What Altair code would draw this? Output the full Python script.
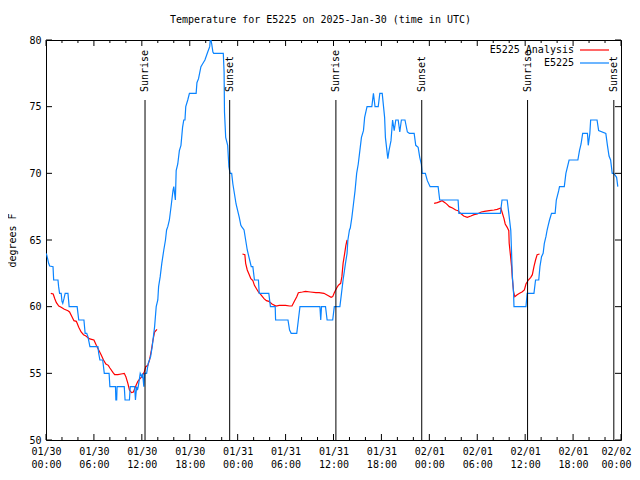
import json
import altair as alt
import pandas as pd

# ---------------- data (hours since 2025-01-30 00:00 UTC) ----------------
blue_h = [0.04, 0.2, 0.33, 0.46, 0.88, 0.96, 1.5, 1.58, 1.7, 1.9, 2.0, 2.1, 2.25, 2.4, 2.75, 2.9,
          3.9, 4.0, 4.1, 4.75, 4.9, 5.1, 5.25, 5.5, 6.5, 6.6, 6.75, 7.1, 7.3, 7.9, 8.0, 8.7, 8.75,
          8.85, 8.9, 9.8, 9.9, 10.45, 10.55, 11.1, 11.2, 11.35, 11.45, 11.55, 11.8, 12.0, 12.1,
          12.25, 12.35, 12.6, 12.8, 13.1, 13.3, 13.6, 13.8, 14.0, 14.1, 14.3, 14.5, 14.75, 14.96,
          15.1, 15.25, 15.45, 15.7, 15.9, 16.0, 16.1, 16.2, 16.3, 16.5, 16.7, 16.9, 17.1, 17.25,
          17.4, 17.5, 17.75, 17.96, 18.8, 18.9, 19.1, 19.4, 19.6, 19.9, 20.25, 20.5, 20.6, 20.75,
          20.9, 21.0, 22.2, 22.3, 22.35, 22.5, 22.75, 22.9, 23.05, 23.25, 23.4, 23.6, 23.8, 24.0,
          24.2, 24.4, 24.5, 24.8, 25.0, 25.2, 25.5, 25.7, 25.9, 26.1, 26.6, 26.7, 27.9, 28.1,
          28.7, 28.75, 30.3, 30.5, 30.7, 31.4, 31.6, 31.8, 34.3, 34.4, 34.5, 35.0, 35.2, 35.9,
          36.1, 36.8, 37.0, 37.2, 37.5, 37.7, 37.8, 38.0, 38.1, 38.3, 38.5, 38.7, 38.9, 39.1,
          39.3, 39.5, 39.75, 39.9, 40.2, 40.8, 41.0, 41.2, 41.6, 41.8, 42.1, 42.4, 42.5, 42.8,
          42.95, 43.2, 43.4, 43.6, 43.8, 44.1, 44.3, 44.5, 44.95, 45.25, 45.5, 46.1, 46.3, 46.6,
          46.8, 47.0, 47.1, 47.5, 47.75, 48.1, 49.1, 49.3, 51.6, 51.7, 56.9, 57.1, 57.75, 57.95,
          58.2, 58.3, 58.4, 58.55, 58.6, 60.1, 60.25, 61.1, 61.3, 61.7, 61.85, 62.05, 62.25,
          62.4, 62.6, 62.75, 62.85, 63.05, 63.3, 63.75, 63.9, 64.2, 64.3, 64.9, 65.1, 65.5, 66.6,
          66.8, 67.0, 67.2, 67.8, 67.9, 68.1, 68.2, 69.0, 69.2, 70.1, 70.3, 70.5, 70.7, 70.9,
          71.1, 71.45, 71.6]
blue_t = [64, 63.6, 63.25, 63.05, 63, 62, 62, 61.5, 61, 61, 60.4, 60.25, 60.6, 61, 61, 60,
          60, 59.5, 59, 59, 58, 58, 57.75, 57, 57, 56.5, 56, 56, 55, 55, 54, 54, 53,
          53, 54, 54, 53, 53, 54, 54, 53, 54, 53.75, 54, 55, 54.75, 55,
          54, 55, 55, 55.75, 56.25, 57, 58.5, 60, 60.5, 61.5, 62.25, 63.25, 64.25, 65,
          65.75, 66, 66.5, 67.7, 68.7, 69, 68.5, 68, 70.2, 70.7, 71.7, 72.1, 73.45, 74,
          74, 75, 75.5, 76, 76, 76.8, 77.1, 78, 78.2, 78.5, 79.1, 79.5, 80.2, 79.7,
          79.1, 79, 79, 77.6, 74.6, 72.7, 72.1, 70.5, 70, 70, 69.2, 68.45, 67.7, 67.2,
          66.7, 66.1, 66, 65.75, 65, 64.25, 63.5, 63, 63, 62, 62, 61, 61, 60,
          60, 59, 59, 58.25, 58, 58, 59, 60, 60, 59, 60, 60, 59, 59,
          60, 60, 61, 62, 63.25, 64, 65, 65.75, 65.9, 66.7, 67.7, 68.7, 70, 70.7,
          71.7, 72.7, 73.2, 74.2, 75, 75, 76, 75, 75, 76, 76, 74.2, 72.7, 71.1,
          71.7, 72.45, 74, 73.2, 74, 74, 73.1, 74, 74, 73.1, 73, 73, 72.1, 71.95,
          71.2, 70.7, 70, 70, 69.45, 69, 69, 68, 68, 67, 67, 68, 68, 67,
          65.7, 64, 62.25, 61, 60, 60, 61, 61, 62, 62, 63, 63.75, 64,
          64.75, 65.25, 65.75, 66, 66.5, 67, 67, 68, 68.7, 69, 69, 70, 71, 71,
          71.7, 72.2, 73, 73, 72.1, 73, 74, 74, 73.2, 73, 72.1, 71.3, 71, 70,
          70, 69.7, 69]

red1_h = [0.6, 0.9, 1.1, 1.3, 1.6, 1.9, 2.3, 2.75, 2.95, 3.25, 3.5, 3.8, 4.1, 4.4, 4.7, 5.0,
          5.4, 5.7, 6.0, 6.3, 6.6, 6.9, 7.2, 7.5, 7.8, 8.0, 8.4, 8.6, 9.0, 9.4, 9.8, 10.0,
          10.25, 10.45, 10.7, 10.95, 11.2, 11.5, 11.7, 12.0, 12.3, 12.5, 12.75, 12.96, 13.2,
          13.4, 13.6, 13.9]
red1_t = [61, 60.95, 60.6, 60.3, 60.05, 59.95, 59.8, 59.7, 59.6, 59.25, 58.95, 58.9, 58.45,
          58.1, 57.9, 57.8, 57.6, 57.55, 57.5, 57.1, 56.75, 56.4, 56, 55.7, 55.6, 55.4, 55.05,
          54.9, 54.9, 54.95, 55, 54.75, 54.25, 53.75, 53.55, 53.6, 54, 54.4, 54.55, 54.75,
          55.1, 55.5, 55.6, 56, 56.75, 57.5, 58.1, 58.3]

red2_h = [24.6, 24.9, 25.0, 25.2, 25.45, 25.65, 25.9, 26.1, 26.3, 26.6, 26.9, 27.3, 27.6,
          27.9, 28.3, 28.8, 29.2, 29.6, 30.0, 30.5, 30.8, 31.1, 31.4, 31.6, 32.1, 32.5, 33.1,
          33.8, 34.2, 34.8, 35.25, 35.7, 35.9, 36.1, 36.4, 36.6, 36.9, 37.05, 37.2, 37.4,
          37.55, 37.7]
red2_t = [63.95, 63.9, 63.25, 62.75, 62.4, 62.1, 61.95, 61.6, 61.4, 61.1, 60.9, 60.6, 60.45,
          60.4, 60.2, 60.05, 60.1, 60.1, 60.1, 60.05, 60.05, 60.4, 60.75, 61.05, 61.1, 61.15,
          61.1, 61.05, 61.05, 61, 60.85, 60.7, 60.75, 61.05, 61.4, 61.6, 61.75, 62.25, 63.25,
          64, 64.6, 65]

red3_h = [48.6, 49.0, 49.4, 49.6, 49.96, 50.25, 50.5, 50.9, 51.3, 51.6, 51.9, 52.3, 52.75,
          53.2, 53.6, 54.0, 54.5, 54.9, 55.5, 56.1, 56.5, 56.95, 57.1, 57.35, 57.5, 57.75,
          57.95, 58.0, 58.15, 58.3, 58.4, 58.55, 58.7, 59.0, 59.3, 59.6, 59.9, 60.1, 60.4,
          60.7, 60.9, 61.1, 61.3, 61.5, 61.8]
red3_t = [67.75, 67.8, 67.9, 67.95, 67.8, 67.65, 67.5, 67.4, 67.25, 67.2, 67, 66.8, 66.7,
          66.8, 66.9, 66.95, 67.1, 67.15, 67.2, 67.25, 67.3, 67.4, 67.1, 66.6, 66.2, 65.95,
          65.7, 64.75, 63.9, 63, 62.1, 61.1, 60.75, 60.9, 61, 61.1, 61.25, 61.7, 62, 62.2,
          62.4, 63, 63.5, 63.9, 63.95]

event_h = [12.4, 23.0, 36.3, 47.05, 60.3, 71.1]
event_label = ["Sunrise", "Sunset", "Sunrise", "Sunset", "Sunrise", "Sunset"]

tick_hours = list(range(0, 73, 6))
tick_dates = ["01/30", "01/30", "01/30", "01/30", "01/31", "01/31", "01/31", "01/31",
              "02/01", "02/01", "02/01", "02/01", "02/02"]
tick_times = ["00:00", "06:00", "12:00", "18:00"] * 3 + ["00:00"]
minor_hours = [h for h in range(0, 73, 2) if h % 6]
y_ticks = [50, 55, 60, 65, 70, 75, 80]

series_names = ["E5225 Analysis", "E5225"]
series_colors = ["#ff0000", "#0a84ff"]

FONT = "DejaVu Sans Mono"
W, H = 575, 400
XMIN, XMAX, YMIN, YMAX = 0, 72, 50, 80

# ---------------- frames ----------------
red_df = pd.concat([
    pd.DataFrame({"hour": red1_h, "temp": red1_t, "seg": 1}),
    pd.DataFrame({"hour": red2_h, "temp": red2_t, "seg": 2}),
    pd.DataFrame({"hour": red3_h, "temp": red3_t, "seg": 3}),
])
red_df["series"] = series_names[0]
blue_df = pd.DataFrame({"hour": blue_h, "temp": blue_t, "seg": 0, "series": series_names[1]})
ev_df = pd.DataFrame({"hour": event_h, "label": event_label})
ev_df["temp"] = YMIN
ev_df["top"] = 75.5
ev_df["ltemp"] = 76.1

xs = alt.Scale(domain=[XMIN, XMAX], nice=False, zero=False)
ys = alt.Scale(domain=[YMIN, YMAX], nice=False, zero=False)
cs = alt.Scale(domain=series_names, range=series_colors)

# tick lengths in data units
maj_x = 6 * (YMAX - YMIN) / H
min_x = 3 * (YMAX - YMIN) / H
maj_y = 6 * (XMAX - XMIN) / W

xt_df = pd.concat([
    pd.DataFrame({"hour": tick_hours, "len": maj_x}),
    pd.DataFrame({"hour": minor_hours, "len": min_x}),
])
xt_df["temp"] = YMIN
xt_df["b2"] = YMIN + xt_df["len"]
xt_df["t1"] = YMAX
xt_df["t2"] = YMAX - xt_df["len"]
yt_df = pd.DataFrame({"temp": y_ticks})
yt_df["hour"] = XMIN
yt_df["l2"] = XMIN + maj_y
yt_df["r1"] = XMAX
yt_df["r2"] = XMAX - maj_y

idx = "round(datum.value/6)"
label_expr = "[" + json.dumps(tick_dates) + "[" + idx + "], " + json.dumps(tick_times) + "[" + idx + "]]"

x_axis = alt.Axis(values=tick_hours, labelExpr=label_expr, ticks=False, domain=False, grid=False,
                  labelFont=FONT, labelFontSize=10, labelColor="black", labelPadding=6,
                  labelLineHeight=13, labelBaseline="top", title=None, labelFlush=False,
                  labelOffset={"condition": {"test": f"datum.value >= {XMAX}", "value": -5},
                               "value": 0})
y_axis = alt.Axis(values=y_ticks, ticks=False, domain=False, grid=False, labelFont=FONT,
                  labelFontSize=10, labelColor="black", labelPadding=5, title="degrees F",
                  titleFont=FONT, titleFontSize=10, titleFontWeight="normal", titleColor="black",
                  titleX=-34, titleY=H / 2, titleAngle=270, titleBaseline="middle", titleAlign="center")


def X(field):
    return alt.X(field, type="quantitative", scale=xs, axis=x_axis)


def Y(field):
    return alt.Y(field, type="quantitative", scale=ys, axis=y_axis)


red = alt.Chart(red_df).mark_line(strokeWidth=1.2, clip=True).encode(
    x=X("hour"), y=Y("temp"),
    color=alt.Color("series:N", scale=cs, legend=None),
    detail="seg:N",
)
blue = alt.Chart(blue_df).mark_line(strokeWidth=1.2, clip=True).encode(
    x=X("hour"), y=Y("temp"),
    color=alt.Color("series:N", scale=cs, legend=None),
)

ev_rule = alt.Chart(ev_df).mark_rule(color="black", strokeWidth=1).encode(
    x=X("hour"), y=Y("temp"), y2="top:Q",
)
ev_text = alt.Chart(ev_df).mark_text(angle=270, align="left", baseline="middle", font=FONT,
                                     fontSize=10, color="black").encode(
    x=X("hour"), y=Y("ltemp"), text="label:N",
)

xt_bottom = alt.Chart(xt_df).mark_rule(color="black").encode(
    x=X("hour"), y=Y("temp"), y2="b2:Q")
xt_top = alt.Chart(xt_df).mark_rule(color="black").encode(
    x=X("hour"), y=Y("t1"), y2="t2:Q")
yt_left = alt.Chart(yt_df).mark_rule(color="black").encode(
    y=Y("temp"), x=X("hour"), x2="l2:Q")
yt_right = alt.Chart(yt_df).mark_rule(color="black").encode(
    y=Y("temp"), x=X("r1"), x2="r2:Q")

# key (top right, gnuplot style: label then line sample)
key_layers = []
for i, (name, col) in enumerate(zip(series_names, series_colors)):
    yy = 10 + 13 * i
    key_layers.append(alt.Chart(pd.DataFrame({"label": [name]})).mark_text(
        align="right", baseline="middle", font=FONT, fontSize=10, color="black").encode(
        x=alt.value(528), y=alt.value(yy), text="label:N"))
    key_layers.append(alt.Chart(pd.DataFrame({"label": [name]})).mark_rule(
        color=col, strokeWidth=1.2).encode(
        x=alt.value(534), x2=alt.value(563), y=alt.value(yy)))

chart = alt.layer(red, blue, ev_rule, ev_text, xt_bottom, xt_top, yt_left, yt_right,
                  *key_layers).properties(
    width=W, height=H,
    title=alt.TitleParams("Temperature for E5225 on 2025-Jan-30 (time in UTC)", font=FONT,
                          fontSize=10, fontWeight="normal", color="black", offset=10,
                          anchor="middle", dx=-13),
    autosize="none",
    padding={"left": 38, "top": 32, "right": 11, "bottom": 30},
    background="white",
).configure_view(stroke="black", strokeWidth=1)

chart.save("out.html", embed_options={"renderer": "svg", "actions": False})
